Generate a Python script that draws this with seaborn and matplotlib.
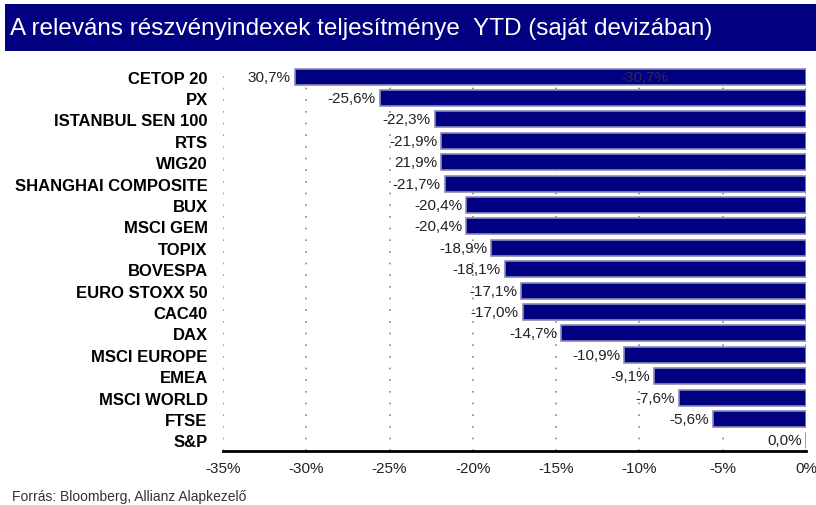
import numpy as np
import pandas as pd
import matplotlib
matplotlib.use('Agg')
import matplotlib.pyplot as plt
import seaborn as sns
from matplotlib.patches import Rectangle

indices = ['CETOP 20', 'PX', 'ISTANBUL SEN 100', 'RTS', 'WIG20', 'SHANGHAI COMPOSITE',
           'BUX', 'MSCI GEM', 'TOPIX', 'BOVESPA', 'EURO STOXX 50', 'CAC40', 'DAX',
           'MSCI EUROPE', 'EMEA', 'MSCI WORLD', 'FTSE', 'S&P']
ytd = [-30.7, -25.6, -22.3, -21.9, -21.9, -21.7, -20.4, -20.4, -18.9, -18.1,
       -17.1, -17.0, -14.7, -10.9, -9.1, -7.6, -5.6, 0.0]
value_labels = ['30,7%', '-25,6%', '-22,3%', '-21,9%', '21,9%', '-21,7%', '-20,4%',
                '-20,4%', '-18,9%', '-18,1%', '-17,1%', '-17,0%', '-14,7%', '-10,9%',
                '-9,1%', '-7,6%', '-5,6%', '0,0%']
xticks = [-35, -30, -25, -20, -15, -10, -5, 0]

df = pd.DataFrame({'index': indices, 'ytd': ytd})

sns.set_style('white')
plt.rcParams['font.family'] = ['Liberation Sans', 'DejaVu Sans']

fig = plt.figure(figsize=(8.16, 5.06), dpi=100)
ax = fig.add_axes([223 / 816, 0.1067, 583 / 816, 0.7609])

sns.barplot(data=df, x='ytd', y='index', orient='h', color='#000080',
            width=0.75, edgecolor='#8a8ab8', linewidth=1.2, saturation=1, ax=ax)

ax.set_xlim(-35, 0)
ax.set_ylim(17.5, -0.5)
ax.set_xticks(xticks)
ax.set_xticklabels([f'{t}%' for t in xticks], fontsize=11, color='#222222')
ax.tick_params(axis='x', direction='inout', length=5, width=1.2, pad=5)
ax.tick_params(axis='y', length=0, pad=11)
for lab in ax.get_yticklabels():
    lab.set_fontweight('bold')
    lab.set_fontsize(12)
    lab.set_color('black')
ax.set_xlabel('')
ax.set_ylabel('')
for s in ['top', 'right', 'left']:
    ax.spines[s].set_visible(False)
ax.spines['bottom'].set_linewidth(2)
ax.spines['bottom'].set_color('black')
ax.grid(axis='x', color='#888888', linestyle=(0, (1, 6)), linewidth=1.2)
ax.set_axisbelow(True)

for i, (v, lab) in enumerate(zip(ytd, value_labels)):
    ax.text(v - 0.25, i, lab, ha='right', va='center', fontsize=11, color='#222222')
ax.text(-9.7, 0, '-30,7%', ha='center', va='center', fontsize=11, color='#2a2a5a')

fig.patches.append(Rectangle((5 / 816, 1 - 52 / 506), 1, 47 / 506, transform=fig.transFigure,
                             facecolor='#000080', edgecolor='none'))
fig.text(10 / 816, 1 - 29 / 506, 'A releváns részvényindexek teljesítménye  YTD (saját devizában)',
         color='white', fontsize=17.5, va='center', ha='left')
fig.text(12 / 816, 1 - 497 / 506, 'Forrás: Bloomberg, Allianz Alapkezelő',
         color='#333333', fontsize=10, va='center', ha='left')

fig.savefig('out.png', dpi=100)
